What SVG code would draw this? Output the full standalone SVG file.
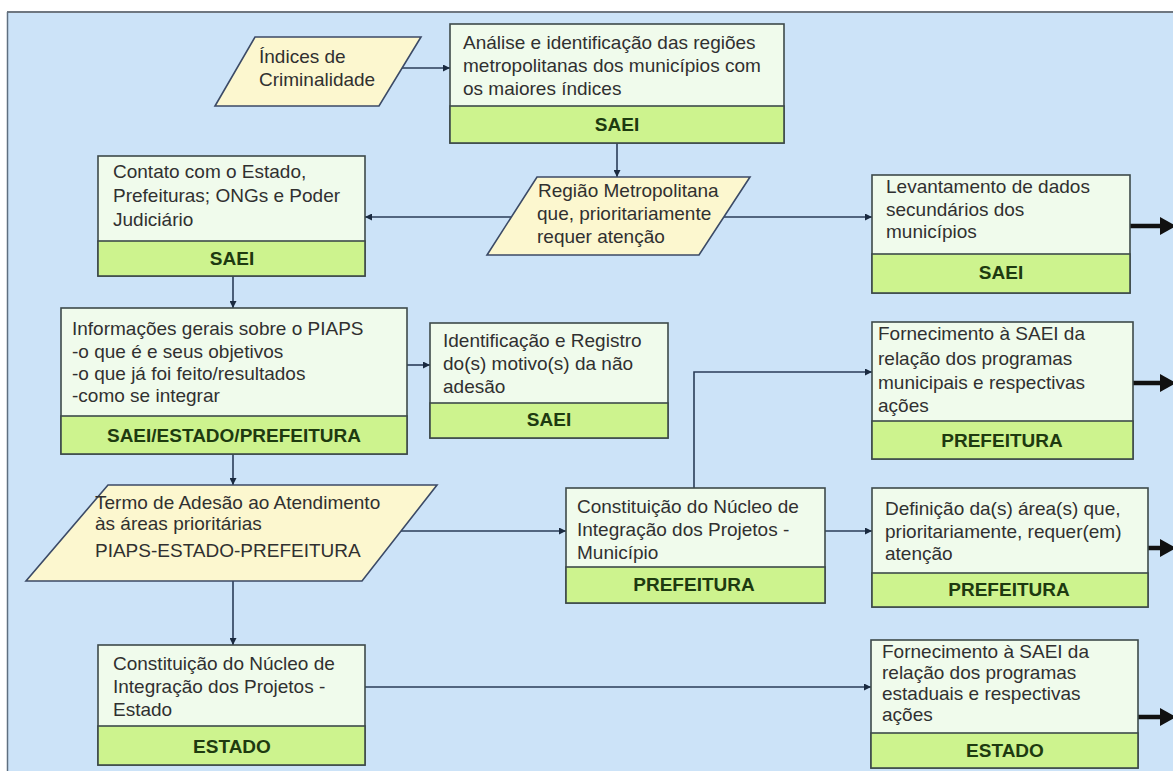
<svg xmlns="http://www.w3.org/2000/svg" width="1173" height="771" viewBox="0 0 1173 771">
<defs>
<style>
.t{font-family:"Liberation Sans",Arial,sans-serif;font-size:19px;fill:#303030}
.b{font-family:"Liberation Sans",Arial,sans-serif;font-size:19px;font-weight:bold;fill:#1e3a10;text-anchor:middle}
.box{fill:#f0fbec;stroke:#3e4a4a;stroke-width:1.6}
.band{fill:#cdf38e;stroke:#3e4a4a;stroke-width:1.6}
.para{fill:#fcf7cf;stroke:#3b4a66;stroke-width:1.6}
.c{fill:none;stroke:#2a3d58;stroke-width:1.6}
.thick{fill:none;stroke:#111111;stroke-width:4.5}
</style>
<marker id="ah" viewBox="0 0 10 10" refX="10" refY="5" markerWidth="8" markerHeight="7" markerUnits="userSpaceOnUse" orient="auto">
<path d="M0,0 L10,5 L0,10 z" fill="#1a2a40"/>
</marker>
</defs>
<rect x="0" y="0" width="1173" height="771" fill="#ffffff"/>
<rect x="7" y="12" width="1166" height="759" fill="#cce3f8"/>
<line x1="7" y1="12" x2="1173" y2="12" stroke="#6f7780" stroke-width="2"/>
<line x1="7.5" y1="12" x2="7.5" y2="771" stroke="#5f6f80" stroke-width="1.5"/>

<g id="connectors">
<line class="c" x1="402" y1="68" x2="450" y2="68" marker-end="url(#ah)"/>
<line class="c" x1="617" y1="143" x2="617" y2="177" marker-end="url(#ah)"/>
<line class="c" x1="511" y1="217" x2="365" y2="217" marker-end="url(#ah)"/>
<line class="c" x1="724" y1="217" x2="872" y2="217" marker-end="url(#ah)"/>
<line class="c" x1="233" y1="276" x2="233" y2="308" marker-end="url(#ah)"/>
<line class="c" x1="407" y1="365" x2="430" y2="365" marker-end="url(#ah)"/>
<line class="c" x1="233" y1="454" x2="233" y2="485" marker-end="url(#ah)"/>
<line class="c" x1="401" y1="531" x2="566" y2="531" marker-end="url(#ah)"/>
<polyline class="c" points="694,488 694,372 872,372" marker-end="url(#ah)"/>
<line class="c" x1="825" y1="531" x2="872" y2="531" marker-end="url(#ah)"/>
<line class="c" x1="233" y1="581" x2="233" y2="645" marker-end="url(#ah)"/>
<line class="c" x1="365" y1="687" x2="871" y2="687" marker-end="url(#ah)"/>
<line class="thick" x1="1130" y1="226" x2="1162" y2="226"/>
<polygon points="1160,217 1160,235 1176,226" fill="#111111"/>
<line class="thick" x1="1133" y1="383" x2="1162" y2="383"/>
<polygon points="1160,374 1160,392 1176,383" fill="#111111"/>
<line class="thick" x1="1148" y1="548" x2="1162" y2="548"/>
<polygon points="1160,539 1160,557 1176,548" fill="#111111"/>
<line class="thick" x1="1138" y1="717" x2="1162" y2="717"/>
<polygon points="1160,708 1160,726 1176,717" fill="#111111"/>
</g>

<g id="indices">
<polygon class="para" points="255,37 421,37 379,106 215,106"/>
<text class="t" x="259" y="63">Índices de</text>
<text class="t" x="259" y="86">Criminalidade</text>
</g>

<g id="analise">
<rect class="box" x="450" y="24" width="334" height="119"/>
<rect class="band" x="450" y="106" width="334" height="37"/>
<text class="t" x="463" y="49">Análise e identificação das regiões</text>
<text class="t" x="463" y="72">metropolitanas dos municípios com</text>
<text class="t" x="463" y="95">os maiores índices</text>
<text class="b" x="617" y="131">SAEI</text>
</g>

<g id="regiao">
<polygon class="para" points="537,177 750,177 699,255 487,255"/>
<text class="t" x="538" y="197">Região Metropolitana</text>
<text class="t" x="537" y="220">que, prioritariamente</text>
<text class="t" x="537" y="243">requer atenção</text>
</g>

<g id="contato">
<rect class="box" x="98" y="156" width="267" height="120"/>
<rect class="band" x="98" y="241" width="267" height="35"/>
<text class="t" x="113" y="178">Contato com o Estado,</text>
<text class="t" x="113" y="202">Prefeituras; ONGs e Poder</text>
<text class="t" x="113" y="226">Judiciário</text>
<text class="b" x="232" y="265">SAEI</text>
</g>

<g id="levantamento">
<rect class="box" x="872" y="175" width="258" height="118"/>
<rect class="band" x="872" y="254" width="258" height="39"/>
<text class="t" x="886" y="193">Levantamento de dados</text>
<text class="t" x="886" y="216">secundários dos</text>
<text class="t" x="886" y="238">municípios</text>
<text class="b" x="1001" y="279">SAEI</text>
</g>

<g id="informacoes">
<rect class="box" x="61" y="308" width="346" height="146"/>
<rect class="band" x="61" y="416" width="346" height="38"/>
<text class="t" x="72" y="335">Informações gerais sobre o PIAPS</text>
<text class="t" x="72" y="358">-o que é e seus objetivos</text>
<text class="t" x="72" y="380">-o que já foi feito/resultados</text>
<text class="t" x="72" y="402">-como se integrar</text>
<text class="b" x="234" y="442">SAEI/ESTADO/PREFEITURA</text>
</g>

<g id="identificacao">
<rect class="box" x="430" y="323" width="238" height="115"/>
<rect class="band" x="430" y="403" width="238" height="35"/>
<text class="t" x="443" y="347">Identificação e Registro</text>
<text class="t" x="443" y="370">do(s) motivo(s) da não</text>
<text class="t" x="443" y="393">adesão</text>
<text class="b" x="549" y="426">SAEI</text>
</g>

<g id="fornecimento-municipais">
<rect class="box" x="872" y="322" width="261" height="137"/>
<rect class="band" x="872" y="421" width="261" height="38"/>
<text class="t" x="878" y="340">Fornecimento à SAEI da</text>
<text class="t" x="878" y="365">relação dos programas</text>
<text class="t" x="878" y="389">municipais e respectivas</text>
<text class="t" x="878" y="412">ações</text>
<text class="b" x="1002" y="447">PREFEITURA</text>
</g>

<g id="termo">
<polygon class="para" points="108,485 437,485 362,581 26,581"/>
<text class="t" x="95" y="509">Termo de Adesão ao Atendimento</text>
<text class="t" x="95" y="530">às áreas prioritárias</text>
<text class="t" x="95" y="557">PIAPS-ESTADO-PREFEITURA</text>
</g>

<g id="constituicao-municipio">
<rect class="box" x="566" y="488" width="259" height="115"/>
<rect class="band" x="566" y="567" width="259" height="36"/>
<text class="t" x="577" y="513">Constituição do Núcleo de</text>
<text class="t" x="577" y="536">Integração dos Projetos -</text>
<text class="t" x="577" y="559">Município</text>
<text class="b" x="694" y="591">PREFEITURA</text>
</g>

<g id="definicao">
<rect class="box" x="872" y="488" width="276" height="119"/>
<rect class="band" x="872" y="573" width="276" height="34"/>
<text class="t" x="885" y="515">Definição da(s) área(s) que,</text>
<text class="t" x="885" y="538">prioritariamente, requer(em)</text>
<text class="t" x="885" y="560">atenção</text>
<text class="b" x="1009" y="596">PREFEITURA</text>
</g>

<g id="constituicao-estado">
<rect class="box" x="98" y="645" width="267" height="120"/>
<rect class="band" x="98" y="726" width="267" height="39"/>
<text class="t" x="113" y="670">Constituição do Núcleo de</text>
<text class="t" x="113" y="693">Integração dos Projetos -</text>
<text class="t" x="113" y="716">Estado</text>
<text class="b" x="232" y="753">ESTADO</text>
</g>

<g id="fornecimento-estaduais">
<rect class="box" x="871" y="640" width="267" height="128"/>
<rect class="band" x="871" y="733" width="267" height="35"/>
<text class="t" x="882" y="658">Fornecimento à SAEI da</text>
<text class="t" x="882" y="679">relação dos programas</text>
<text class="t" x="882" y="700">estaduais e respectivas</text>
<text class="t" x="882" y="721">ações</text>
<text class="b" x="1005" y="757">ESTADO</text>
</g>
</svg>
